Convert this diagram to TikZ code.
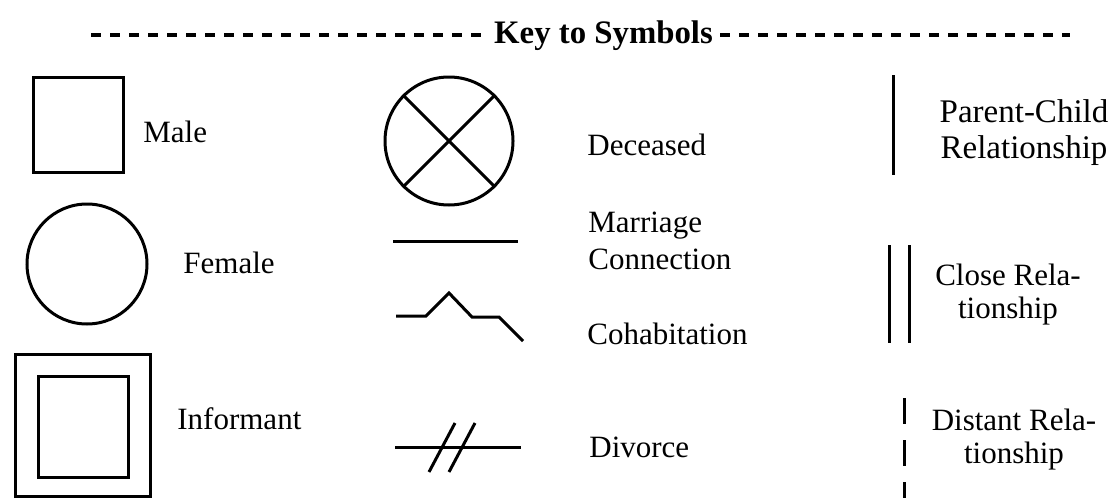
\documentclass[tikz,border=0pt]{standalone}
\usepackage{fontspec}
\setmainfont{Liberation Serif}
\usepackage{tikz}
\usetikzlibrary{calc}

\begin{document}
\begin{tikzpicture}[
  x=0.5pt, y=-0.5pt,
  sym_line/.style={line width=1.5pt},
  sym_box/.style={draw, rectangle, line width=1.5pt, inner sep=0pt},
  sym_circle/.style={draw, circle, line width=1.5pt, inner sep=0pt},
  key_label/.style={anchor=base west, inner sep=0pt, font=\fontsize{15.5}{18}\selectfont},
  rel_label/.style={anchor=north, inner sep=0pt, align=center, font=\fontsize{15.5}{16.5}\selectfont},
  key_dash/.style={line width=2.2pt, dash pattern=on 5pt off 4.5pt}
]
  \useasboundingbox (0,0) rectangle (1118,498);

  % Title: Key to Symbols
  \node (title) [anchor=base, inner sep=0pt, font=\fontsize{16.4}{18}\selectfont\bfseries] at (603.5,43) {Key to Symbols};
  \coordinate (dashL) at (91,35);
  \coordinate (dashR) at (1070,35);
  \draw[key_dash] (dashL) -- ($(dashL -| title.west)+(-9,0)$);
  \draw[key_dash] ($(title.east |- dashR)+(7,0)$) -- (dashR);

  % LEFT: Male, Female, Informant
  \node (male) [sym_box, minimum width=45pt, minimum height=47.5pt] at (78,124.5) {};
  \node (male_lbl) [key_label] at (143,142) {Male};
  \node (female) [sym_circle, minimum size=60pt] at (87,264) {};
  \node (female_lbl) [key_label] at (183,273) {Female};
  \node (inf_out) [sym_box, minimum width=67.5pt, minimum height=71pt] at (82.5,425) {};
  \node (inf_in) [sym_box, minimum width=45pt, minimum height=50.5pt] at (83,426.5) {};
  \node (inf_lbl) [key_label] at (177,429) {Informant};

  % MIDDLE: Deceased and couple lines
  \node (dead) [sym_circle, minimum size=64pt] at (449,141) {};
  \draw[sym_line] (dead.135) -- (dead.-45);
  \draw[sym_line] (dead.45) -- (dead.-135);
  \node (dead_lbl) [key_label] at (587,155) {Deceased};

  \draw[sym_line] (393,241) -- (518,241);
  \node (marr_lbl) [key_label, anchor=north west, align=left, font=\fontsize{15.5}{18.5}\selectfont] at (588,212) {Marriage\\Connection};

  \draw[sym_line] (396,316) -- (426,316) -- (449,293) -- (472,317) -- (499,317) -- (523,341);
  \node (cohab_lbl) [key_label] at (587,344) {Cohabitation};

  \draw[sym_line] (395,447) -- (521,447);
  \draw[sym_line] (429,472) -- (455,423);
  \draw[sym_line] (449,472) -- (475,423);
  \node (div_lbl) [key_label] at (589,457) {Divorce};

  % RIGHT: relationship lines
  \draw[sym_line] (893,75) -- (893,175);
  \node (pc_lbl) [rel_label, font=\fontsize{16.5}{18}\selectfont] at (1024,99) {Parent-Child\\Relationship};

  \draw[sym_line] (889,245) -- (889,343);
  \draw[sym_line] (909,245) -- (909,343);
  \node (close_lbl) [rel_label] at (1008,264) {Close Rela-\\tionship};

  \draw[sym_line, dash pattern=on 13pt off 8pt] (904,398) -- (904,498);
  \node (dist_lbl) [rel_label] at (1014,409) {Distant Rela-\\tionship};

\end{tikzpicture}
\end{document}
